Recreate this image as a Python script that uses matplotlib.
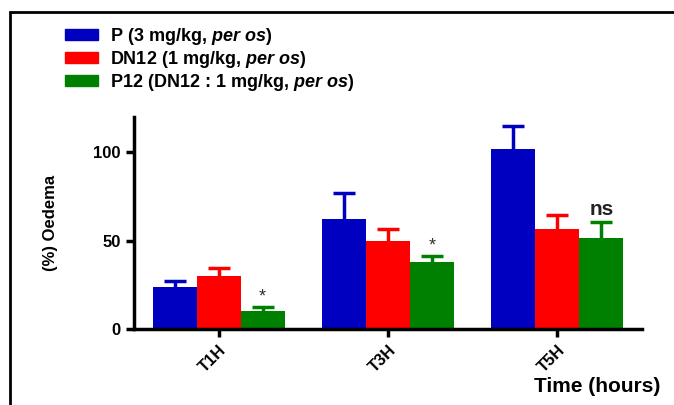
import numpy as np
import matplotlib.pyplot as plt
from matplotlib.patches import Rectangle, Patch

plt.rcParams['font.family'] = ['Liberation Sans', 'DejaVu Sans']
plt.rcParams['mathtext.fontset'] = 'custom'
plt.rcParams['mathtext.it'] = 'Liberation Sans:italic:bold'
plt.rcParams['mathtext.rm'] = 'Liberation Sans'

times = ["T1H", "T3H", "T5H"]
labels = ["P (3 mg/kg, $\\it{per\\ os}$)",
          "DN12 (1 mg/kg, $\\it{per\\ os}$)",
          "P12 (DN12 : 1 mg/kg, $\\it{per\\ os}$)"]
colors = ["#0000c0", "#ff0000", "#008000"]

p_mean = [23.7, 62, 101.7]
p_err = [3.5, 15, 13]
dn12_mean = [30, 50, 56.5]
dn12_err = [4.5, 6.5, 8]
p12_mean = [10, 38, 51.5]
p12_err = [2.4, 3.2, 9]
marks = ["*", "*", "ns"]

means = [p_mean, dn12_mean, p12_mean]
errs = [p_err, dn12_err, p12_err]

fig = plt.figure(figsize=(6.74, 4.05), dpi=100)
ax = fig.add_axes([134 / 674, 1 - 329 / 405, (642 - 134) / 674, (329 - 117) / 405])

x = np.arange(len(times))
w = 0.26
cap = 0.065
for i in range(3):
    xs = x + (i - 1) * w
    m = np.array(means[i])
    e = np.array(errs[i])
    ax.bar(xs, m, w, color=colors[i], label=labels[i], zorder=2)
    ax.vlines(xs, m, m + e, color=colors[i], linewidth=2.5, zorder=1)
    ax.hlines(m + e, xs - cap, xs + cap, color=colors[i], linewidth=2.5, zorder=1)

for j in range(3):
    top = p12_mean[j] + p12_err[j]
    if marks[j] == "*":
        ax.text(x[j] + w, top + 1, "*", ha="center", va="bottom", fontsize=13, color="#333333")
    else:
        ax.text(x[j] + w, top + 1.5, "ns", ha="center", va="bottom", fontsize=15,
                fontweight="bold", color="#222222")

ax.set_xlim(-0.5, 2.5)
ax.set_ylim(0, 120)
ax.set_yticks([0, 50, 100])
ax.set_xticks(x)
ax.set_xticklabels(times, rotation=45, ha="right", rotation_mode="anchor",
                   fontsize=12, fontweight="bold")
for t in ax.get_yticklabels():
    t.set_fontweight("bold")
    t.set_fontsize(12)
ax.spines["top"].set_visible(False)
ax.spines["right"].set_visible(False)
ax.spines["left"].set_linewidth(2.5)
ax.spines["bottom"].set_linewidth(2.5)
ax.tick_params(axis="both", width=2.5, length=6)
ax.set_ylabel("(%) Oedema", fontsize=12, fontweight="bold")
ax.yaxis.set_label_coords(-0.15, 0.5)
fig.text(660 / 674, 1 - 386 / 405, "Time (hours)", ha="right", va="center",
         fontsize=15, fontweight="bold")

handles = [Patch(color=c) for c in colors]
fig.legend(handles, labels, loc="upper left", bbox_to_anchor=(65 / 674, 1 - 26 / 405),
           frameon=False, prop={"size": 13, "weight": "bold"}, handlelength=1.8,
           handleheight=0.6, labelspacing=0.1, handletextpad=0.7,
           borderaxespad=0, borderpad=0)

fig.patches.append(Rectangle((10 / 674, -0.1), 1.2, 1 - 12 / 405 + 0.1,
                             transform=fig.transFigure, fill=False,
                             edgecolor="black", linewidth=2))

fig.savefig("out.png", dpi=100)
